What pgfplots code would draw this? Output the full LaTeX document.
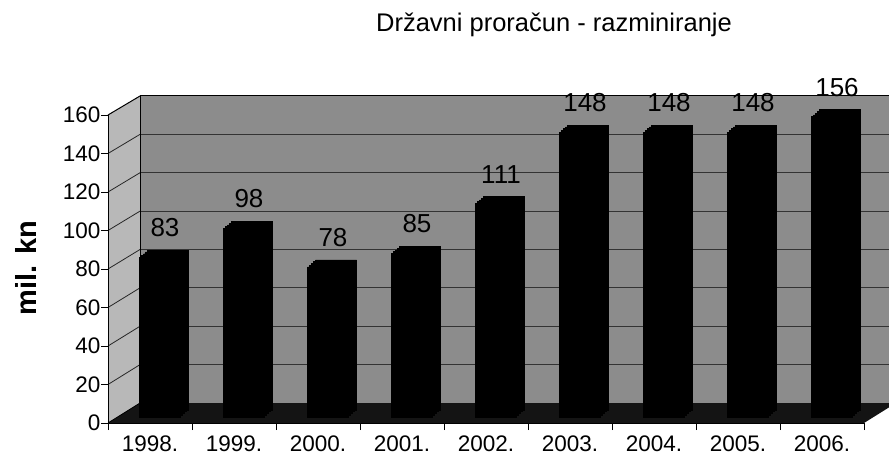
\documentclass[border=0pt]{standalone}
\usepackage{fontspec}
\setmainfont{Liberation Sans}
\usepackage{pgfplots}
\pgfplotsset{compat=1.18}
\usepackage{pgfplotstable}

\pgfplotstableread{
x y
0.5 83
1.5 98
2.5 78
3.5 85
4.5 111
5.5 148
6.5 148
7.5 148
8.5 156
}\datatable

\definecolor{wallgray}{gray}{0.55}
\definecolor{sidegray}{gray}{0.72}

\begin{document}
\begin{tikzpicture}
\useasboundingbox (0pt,0pt) rectangle (889pt,461pt);
\begin{scope}[x=1pt,y=1pt]
% left side wall
\fill[sidegray] (108,38) -- (140,58) -- (140,365) -- (108,346) -- cycle;
\foreach \k in {1,...,7} {\draw[black!85, line width=0.8pt] (108,{38+38.5*\k}) -- (140,{58+38.375*\k});}
\draw[black, line width=1pt] (108,346) -- (140,365);
\end{scope}
% back wall
\begin{axis}[at={(140pt,58pt)}, anchor=south west, scale only axis,
  width=749pt, height=307pt, xmin=0, xmax=9, ymin=0, ymax=160,
  axis background/.style={fill=wallgray},
  xtick=\empty, ytick={20,40,...,140}, yticklabels={}, major tick length=0pt,
  ymajorgrids, grid style={draw=black!80, line width=0.9pt},
  axis line style={draw=none}]
\end{axis}
\begin{scope}[x=1pt,y=1pt]
\draw[black, line width=1pt] (140,58) -- (140,365) -- (889,365);
% floor
\fill[black!92] (108,38) -- (864,38) -- (889,53.6) -- (889,58) -- (140,58) -- cycle;
\draw[black, line width=0.8pt] (108,38) -- (140,58);
\end{scope}
% bars (3D depth by stacked copies)
\foreach \s in {8,6,4,2,0} {
\begin{axis}[at={({(118+\s)*1pt},{(44+0.875*\s)*1pt})}, anchor=south west, scale only axis,
  width=756pt, height=308pt, xmin=0, xmax=9, ymin=0, ymax=160,
  hide axis, ybar, bar width=41pt]
\addplot[fill=black, draw=black] table[x=x,y=y]{\datatable};
\end{axis}
}
% front axis
\begin{axis}[at={(108pt,38pt)}, anchor=south west, scale only axis,
  width=756pt, height=308pt, xmin=0, xmax=9, ymin=0, ymax=160,
  axis x line*=bottom, axis y line*=left,
  axis line style={black, line width=1pt},
  xtick={0,...,9}, x tick label as interval,
  xticklabels={1998.,1999.,2000.,2001.,2002.,2003.,2004.,2005.,2006.},
  ytick={0,20,...,160},
  tick align=outside, major tick length=7pt,
  tick style={black, line width=0.9pt},
  tick label style={font=\fontsize{22.5}{25}\selectfont},
  xticklabel style={yshift=-2pt},
  yticklabel style={xshift=3pt},
  /pgf/number format/assume math mode=true,
  nodes near coords,
  nodes near coords style={anchor=south, inner sep=0pt, xshift=15pt, yshift=26pt,
    font=\fontsize{26}{28}\selectfont, text=black},
  ]
\addplot[draw=none, mark=none] table[x=x,y=y]{\datatable};
\end{axis}
\begin{scope}[x=1pt,y=1pt]
\node[anchor=base, font=\fontsize{25.5}{28}\selectfont] at (554,429) {Državni proračun - razminiranje};
\node[rotate=90, font=\bfseries\fontsize{29}{32}\selectfont] at (26,193) {mil. kn};
\end{scope}
\end{tikzpicture}
\end{document}
